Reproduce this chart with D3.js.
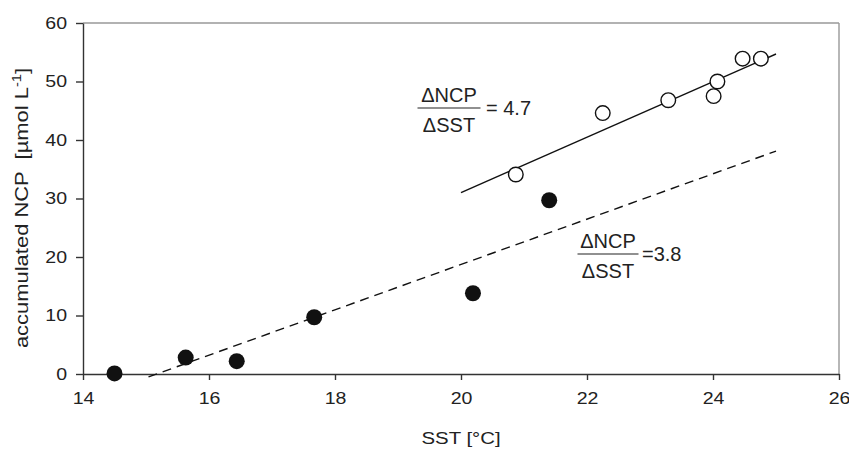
<!DOCTYPE html>
<meta charset="utf-8">
<style>
body { margin: 0; background: #fff; }
svg { display: block; }
.axis text { font-family: Arial, "Liberation Sans", sans-serif; font-size: 17px; fill: #222; }
.axis path, .axis line { stroke: #333; stroke-width: 1.4px; }
.lbl { font-family: Arial, "Liberation Sans", sans-serif; fill: #222; }
</style>
<body>
<svg class="plotter" width="849" height="450"></svg>
<script src="https://d3js.org/d3.v7.min.js"></script>
<script>

// filled dots (SST, accumulated NCP)
var filledSST = [14.5, 15.63, 16.44, 17.67, 20.19, 21.4];
var filledNCP = [0.1, 2.8, 2.2, 9.7, 13.8, 29.7];

// open dots
var openSST = [20.87, 22.25, 23.29, 24.01, 24.07, 24.47, 24.76];
var openNCP = [34.1, 44.6, 46.8, 47.5, 50.0, 53.9, 53.9];

// regression lines, end points
var solidSST = [20.0, 25.0];
var solidNCP = [31.0, 54.7];
var dashSST = [15.04, 25.0];
var dashNCP = [-0.5, 38.1];

var xTicks = [14, 16, 18, 20, 22, 24, 26];
var yTicks = [0, 10, 20, 30, 40, 50, 60];

var margin = {left: 83, right: 10, top: 23, bottom: 76};
var width = 849, height = 450;
var stretch = 1.15; // axis lettering in the original is set wide

var svg = d3.select(".plotter");

var x = d3.scaleLinear().domain([14, 26]).range([margin.left, width - margin.right]);
var y = d3.scaleLinear().domain([0, 60]).range([height - margin.bottom, margin.top]);

// frame top / right
svg.append("line")
    .attr("x1", x(14)).attr("x2", x(26))
    .attr("y1", y(60)).attr("y2", y(60))
    .attr("stroke", "#999").attr("stroke-width", 1.4);
svg.append("line")
    .attr("x1", x(26)).attr("x2", x(26))
    .attr("y1", y(60)).attr("y2", y(0))
    .attr("stroke", "#999").attr("stroke-width", 1.4);

svg.append("g")
    .attr("class", "axis")
    .attr("transform", "translate(0," + y(0) + ")")
    .call(d3.axisBottom(x).tickValues(xTicks).tickSize(6).tickPadding(12).tickSizeOuter(0))
  .selectAll("text")
    .attr("transform", "scale(" + stretch + ",1)");

svg.append("g")
    .attr("class", "axis")
    .attr("transform", "translate(" + x(14) + ",0)")
    .call(d3.axisLeft(y).tickValues(yTicks).tickSize(7).tickPadding(9).tickSizeOuter(0))
  .selectAll("text")
    .attr("x", -16 / stretch)
    .attr("transform", "scale(" + stretch + ",1)");

// lines
var line = d3.line().x(function(d) { return x(d[0]); }).y(function(d) { return y(d[1]); });

svg.append("path")
    .datum(d3.zip(solidSST, solidNCP))
    .attr("d", line)
    .attr("fill", "none").attr("stroke", "#111").attr("stroke-width", 1.4);

svg.append("path")
    .datum(d3.zip(dashSST, dashNCP))
    .attr("d", line)
    .attr("fill", "none").attr("stroke", "#111").attr("stroke-width", 1.4)
    .attr("stroke-dasharray", "9,6");

// dots
svg.append("g").selectAll("circle")
    .data(d3.zip(filledSST, filledNCP))
    .enter().append("circle")
      .attr("cx", function(d) { return x(d[0]); })
      .attr("cy", function(d) { return y(d[1]); })
      .attr("r", 8)
      .attr("fill", "#111");

svg.append("g").selectAll("circle")
    .data(d3.zip(openSST, openNCP))
    .enter().append("circle")
      .attr("cx", function(d) { return x(d[0]); })
      .attr("cy", function(d) { return y(d[1]); })
      .attr("r", 7.3)
      .attr("fill", "#fff")
      .attr("stroke", "#111")
      .attr("stroke-width", 1.4);

// slope labels
function fraction(cx, yTop, barW, rhs, rhsX) {
  var g = svg.append("g").attr("class", "lbl").style("font-size", "20px");
  g.append("text").attr("x", cx).attr("y", yTop).attr("text-anchor", "middle").text("\u0394NCP");
  g.append("line")
      .attr("x1", cx - barW / 2).attr("x2", cx + barW / 2)
      .attr("y1", yTop + 6).attr("y2", yTop + 6)
      .attr("stroke", "#222").attr("stroke-width", 1.2);
  g.append("text").attr("x", cx).attr("y", yTop + 30).attr("text-anchor", "middle").text("\u0394SST");
  g.append("text").attr("x", rhsX).attr("y", yTop + 13).text(rhs);
}
fraction(449, 102, 63, "= 4.7", 486);
fraction(608, 248, 61, "=3.8", 642);

// axis titles
svg.append("text")
    .attr("class", "lbl")
    .attr("transform", "translate(" + x(20) + ",444) scale(1.2,1)")
    .attr("text-anchor", "middle")
    .style("font-size", "17px")
    .text("SST [\u00B0C]");

var yl = svg.append("text")
    .attr("class", "lbl")
    .attr("transform", "translate(28,208) rotate(-90) scale(1.22,1)")
    .attr("text-anchor", "middle")
    .style("font-size", "18px");
yl.append("tspan").text("accumulated NCP \u00A0[\u00B5mol L");
yl.append("tspan").attr("dy", -7).style("font-size", "12px").text("-1");
yl.append("tspan").attr("dy", 7).text("]");

</script>
</body>
